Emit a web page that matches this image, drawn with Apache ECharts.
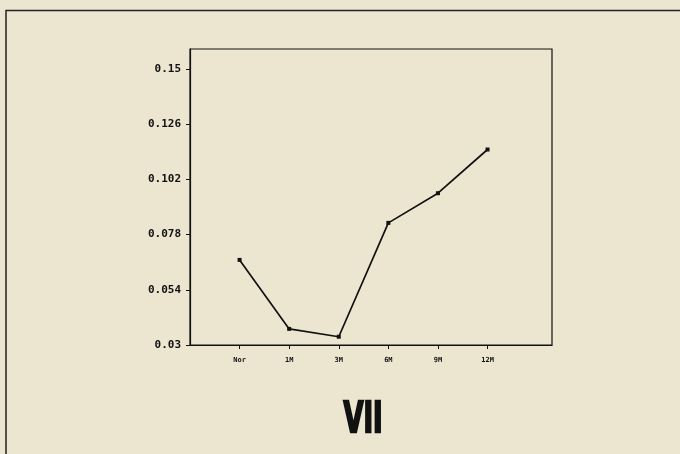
<!DOCTYPE html>
<html>
<head>
<meta charset="utf-8">
<script src="https://cdn.jsdelivr.net/npm/echarts@6/dist/echarts.min.js"></script>
<style>
  html, body { margin: 0; padding: 0; background: #ece6d0; }
  #chart { width: 680px; height: 454px; }
</style>
</head>
<body>
<div id="chart"></div>
<script>
// Time points after treatment and the measured values
const categories = ['Nor', '1M', '3M', '6M', '9M', '12M'];
const values = [0.067, 0.037, 0.0336, 0.0831, 0.096, 0.115];
const yTicks = [0.03, 0.054, 0.078, 0.102, 0.126, 0.15];
const panelTitle = 'VII';

const chart = echarts.init(document.getElementById('chart'), null, { renderer: 'canvas' });

const seriesData = values.map((v, i) => [i, v]);

chart.setOption({
  backgroundColor: '#ece6d0',
  animation: false,
  grid: {
    left: 190, right: 128, top: 49, bottom: 109,
    show: true, borderColor: '#111', borderWidth: 1.2, backgroundColor: 'transparent'
  },
  xAxis: {
    type: 'value',
    min: -1, max: 6.3,
    splitLine: { show: false },
    axisLine: { show: true, onZero: false, lineStyle: { color: '#111', width: 1.2 } },
    axisTick: { show: true, length: 4, customValues: [0, 1, 2, 3, 4, 5], lineStyle: { color: '#111' } },
    axisLabel: {
      customValues: [0, 1, 2, 3, 4, 5],
      formatter: v => categories[Math.round(v)] || '',
      color: '#111', fontSize: 7, fontWeight: 'bold',
      fontFamily: 'DejaVu Sans Mono', margin: 12
    }
  },
  yAxis: {
    type: 'value',
    min: 0.03, max: 0.1587,
    splitLine: { show: false },
    axisLine: { show: true, onZero: false, lineStyle: { color: '#111', width: 1.2 } },
    axisTick: { show: true, length: 4, customValues: yTicks, lineStyle: { color: '#111' } },
    axisLabel: {
      customValues: yTicks,
      formatter: v => String(v),
      color: '#111', fontSize: 11, fontWeight: 'bold',
      fontFamily: 'DejaVu Sans Mono', margin: 9
    }
  },
  series: [{
    type: 'line',
    data: seriesData,
    symbol: 'rect',
    symbolSize: 4,
    lineStyle: { color: '#111', width: 1.7 },
    itemStyle: { color: '#111' }
  }],
  graphic: [
    {
      type: 'polyline',
      shape: { points: [[6, 454], [6, 10.5], [680, 10.5]] },
      style: { stroke: '#222', lineWidth: 1.5, fill: null }
    },
    {
      type: 'text',
      x: 363, y: 421,
      scaleX: 0.6,
      style: {
        text: panelTitle,
        font: 'bold 43px "DejaVu Sans"',
        fill: '#111',
        stroke: '#111',
        lineWidth: 2.5,
        textAlign: 'center',
        textVerticalAlign: 'middle'
      }
    }
  ]
});
</script>
</body>
</html>
